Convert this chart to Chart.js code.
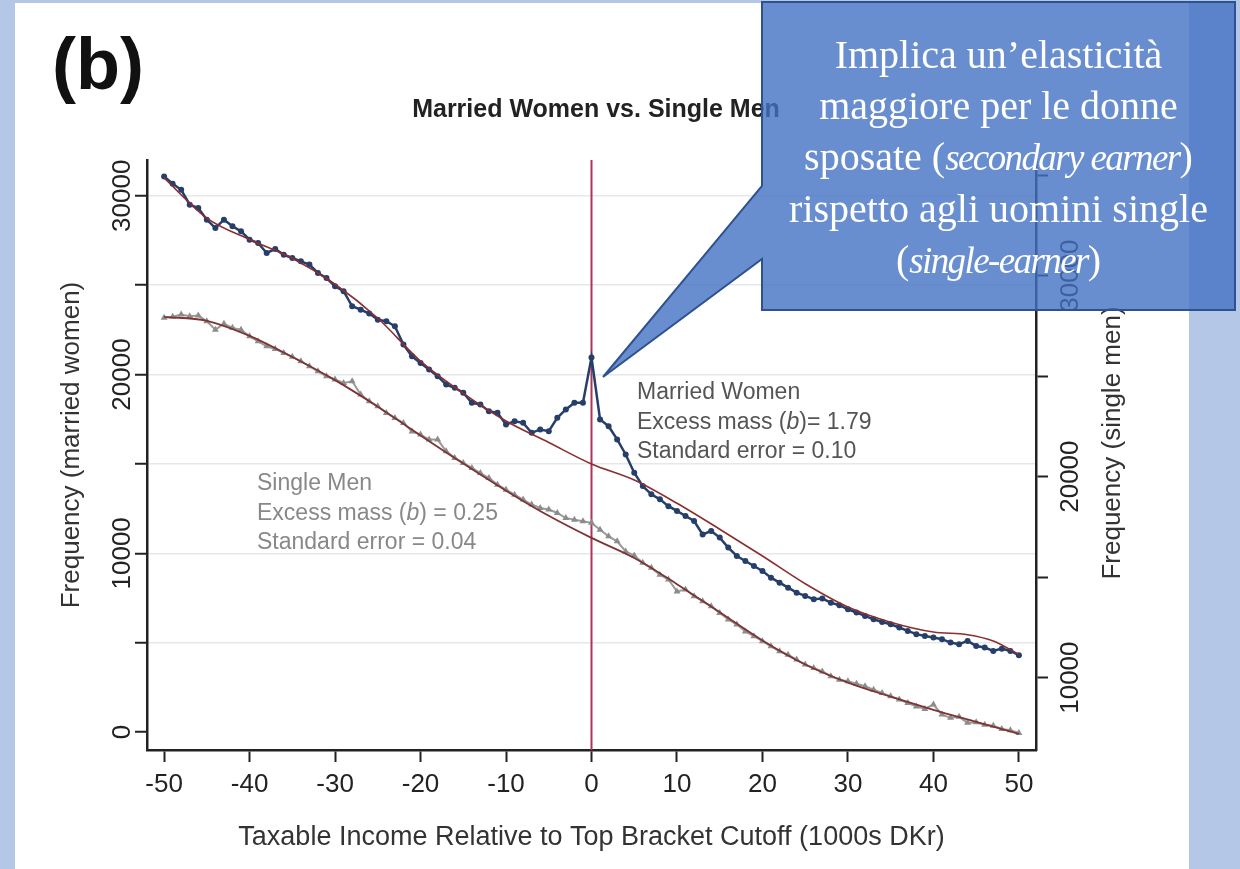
<!DOCTYPE html>
<html>
<head>
<meta charset="utf-8">
<script src="https://cdn.jsdelivr.net/npm/chart.js@4.4.1/dist/chart.umd.min.js"></script>
<style>
  html, body { margin: 0; padding: 0; }
  body { width: 1240px; height: 869px; background: #b4c7e7; position: relative; overflow: hidden; }
  #panel { position: absolute; left: 15px; top: 3px; width: 1174px; height: 866px; background: #fff; }
  #chart { position: absolute; left: 0; top: 0; }
  #callout { position: absolute; left: 0; top: 0; }
  #calloutText {
    position: absolute; left: 762px; top: 2px; width: 473px; padding-top: 27px;
    text-align: center; color: #fff;
    font-family: 'Liberation Serif', 'Times New Roman', serif; font-size: 40px; line-height: 51px;
  }
  #calloutText i { font-size: 37px; letter-spacing: -1.6px; }
</style>
</head>
<body>
<div id="panel"></div>
<canvas id="chart" width="1240" height="869"></canvas>
<svg id="callout" width="1240" height="869">
  <path d="M762,2 H1235 V310 H762 V259 L603,377 L762,186 Z" fill="#4472c4" fill-opacity="0.8" stroke="#2f528f" stroke-width="2"/>
</svg>
<div id="calloutText">Implica un’elasticità<br>maggiore per le donne<br>sposate (<i>secondary earner</i>)<br>rispetto agli uomini single<br>(<i>single-earner</i>)</div>
<script>
// bins: taxable income relative to top bracket cutoff (1000s DKr)
const bins = [-50, -49, -48, -47, -46, -45, -44, -43, -42, -41, -40, -39, -38, -37, -36, -35, -34, -33, -32, -31,
  -30, -29, -28, -27, -26, -25, -24, -23, -22, -21, -20, -19, -18, -17, -16, -15, -14, -13, -12, -11,
  -10, -9, -8, -7, -6, -5, -4, -3, -2, -1, 0, 1, 2, 3, 4, 5, 6, 7, 8, 9,
  10, 11, 12, 13, 14, 15, 16, 17, 18, 19, 20, 21, 22, 23, 24, 25, 26, 27, 28, 29,
  30, 31, 32, 33, 34, 35, 36, 37, 38, 39, 40, 41, 42, 43, 44, 45, 46, 47, 48, 49, 50];

// married women (left axis)
const womenCounts = [31080, 30670, 30335, 29500, 29310, 28660, 28190, 28660, 28290, 28010,
  27540, 27360, 26800, 27020, 26700, 26520, 26330, 26150, 25680, 25400,
  24940, 24660, 23820, 23630, 23410, 23070, 22980, 22700, 21680, 21020,
  20650, 20280, 19910, 19440, 19260, 18980, 18420, 18320, 17950, 17860,
  17210, 17390, 17300, 16740, 16930, 16830, 17580, 18050, 18420, 18420,
  20950, 17490, 17110, 16370, 15530, 14510, 13760, 13300, 13020, 12640,
  12370, 12090, 11810, 11060, 11250, 10880, 10320, 9850, 9570, 9290,
  9010, 8640, 8360, 8080, 7800, 7620, 7430, 7470, 7240, 7100,
  6870, 6690, 6500, 6310, 6160, 6030, 5850, 5660, 5480, 5380,
  5290, 5200, 5010, 4920, 5100, 4820, 4730, 4540, 4670, 4540, 4300];

// single men (right axis)
const menCounts = [27900, 27950, 28060, 27980, 28010, 27730, 27310, 27610, 27400, 27310,
  26980, 26730, 26480, 26350, 26150, 25960, 25740, 25490, 25240, 24990,
  24830, 24660, 24740, 24080, 23750, 23500, 23170, 22920, 22670, 22250,
  22090, 21840, 21840, 21260, 20930, 20680, 20430, 20180, 19930, 19600,
  19350, 19100, 18860, 18610, 18440, 18360, 18190, 17940, 17860, 17780,
  17700, 17360, 17030, 16780, 16280, 16070, 15710, 15460, 15120, 14880,
  14290, 14380, 14050, 13800, 13550, 13220, 12890, 12640, 12300, 12060,
  11810, 11560, 11310, 11140, 10900, 10650, 10480, 10310, 10070, 9900,
  9820, 9700, 9570, 9400, 9240, 9070, 8910, 8740, 8570, 8440,
  8660, 8160, 8000, 8050, 7750, 7780, 7660, 7610, 7450, 7380, 7250];

// counterfactual fits, read at knots
const womenFitX = [-50, -45, -40, -35, -30, -25, -20, -15, -10, -5, 0, 5, 10, 15, 20, 25, 30, 35, 40, 44, 47, 50];
const womenFitY = [31000, 28750, 27550, 26500, 25050, 23150, 20750, 18950, 17400, 16200, 15000, 14100, 12800, 11350, 9850, 8300, 7000, 6150, 5600, 5450, 5100, 4350];
const menFitX = [-50, -45, -40, -35, -30, -25, -20, -15, -10, -5, 0, 5, 10, 15, 20, 25, 30, 35, 40, 45, 50];
const menFitY = [27950, 27750, 27000, 25950, 24800, 23480, 22050, 20650, 19300, 18050, 16950, 15950, 14650, 13250, 11850, 10650, 9750, 9050, 8400, 7800, 7200];

const xTicks = [-50, -40, -30, -20, -10, 0, 10, 20, 30, 40, 50];
const leftTicks = [0, 5000, 10000, 15000, 20000, 25000, 30000];
const leftTickLabels = [0, 10000, 20000, 30000];
const rightTicks = [10000, 15000, 20000, 25000, 30000, 35000];
const rightTickLabels = [10000, 20000, 30000];
const cutoff = 0;

const FONT = "'Liberation Sans', Arial, sans-serif";
const AXIS = '#222';

function richText(ctx, parts, x, y, size, color) {
  ctx.fillStyle = color;
  ctx.textAlign = 'left';
  ctx.textBaseline = 'middle';
  parts.forEach(([t, it]) => {
    ctx.font = (it ? 'italic ' : '') + size + 'px ' + FONT;
    ctx.fillText(t, x, y);
    x += ctx.measureText(t).width;
  });
}

function vText(ctx, t, x, y) {
  ctx.save();
  ctx.translate(x, y);
  ctx.rotate(-Math.PI / 2);
  ctx.textAlign = 'center';
  ctx.textBaseline = 'middle';
  ctx.fillText(t, 0, 0);
  ctx.restore();
}

const paperText = {
  id: 'paperText',
  beforeDatasetsDraw(chart) {
    const { ctx, chartArea, scales } = chart;
    const px = scales.x.getPixelForValue(cutoff);
    ctx.save();
    ctx.strokeStyle = '#ad3358';
    ctx.lineWidth = 2;
    ctx.beginPath();
    ctx.moveTo(px, chartArea.top);
    ctx.lineTo(px, chartArea.bottom);
    ctx.stroke();
    ctx.restore();
  },
  afterDraw(chart) {
    const { ctx, scales } = chart;
    ctx.save();
    // panel letter and title
    ctx.fillStyle = '#111';
    ctx.font = 'bold 72px ' + FONT;
    ctx.textAlign = 'left';
    ctx.textBaseline = 'alphabetic';
    ctx.fillText('(b)', 52, 89);
    ctx.font = 'bold 25px ' + FONT;
    ctx.fillStyle = '#222';
    ctx.textAlign = 'center';
    ctx.textBaseline = 'middle';
    ctx.fillText('Married Women vs. Single Men', 596, 110);

    // y tick labels, rotated
    ctx.font = '26px ' + FONT;
    ctx.fillStyle = '#222';
    leftTickLabels.forEach(v => vText(ctx, String(v), 123, scales.y.getPixelForValue(v)));
    rightTickLabels.forEach(v => vText(ctx, String(v), 1071, scales.y1.getPixelForValue(v)));
    ctx.fillStyle = '#333';
    vText(ctx, 'Frequency (married women)', 72, 445);
    vText(ctx, 'Frequency (single men)', 1113, 443);

    // annotations
    richText(ctx, [['Married Women', false]], 637, 393, 23, '#555');
    richText(ctx, [['Excess mass (', false], ['b', true], [')= 1.79', false]], 637, 423, 23, '#555');
    richText(ctx, [['Standard error = 0.10', false]], 637, 452, 23, '#555');
    richText(ctx, [['Single Men', false]], 257, 484, 23, '#888');
    richText(ctx, [['Excess mass (', false], ['b', true], [') = 0.25', false]], 257, 514, 23, '#888');
    richText(ctx, [['Standard error = 0.04', false]], 257, 543, 23, '#888');
    ctx.restore();
  }
};

const tickGrid = { drawOnChartArea: false, tickLength: 12, tickColor: AXIS, tickWidth: 2, color: AXIS };
const axisBorder = { display: true, color: AXIS, width: 2.5 };

new Chart(document.getElementById('chart'), {
  type: 'line',
  data: {
    datasets: [
      {
        label: 'Married women fit',
        data: womenFitX.map((x, i) => ({ x, y: womenFitY[i] })),
        yAxisID: 'y',
        borderColor: '#8a2f2f',
        borderWidth: 1.6,
        pointRadius: 0,
        cubicInterpolationMode: 'monotone'
      },
      {
        label: 'Single men fit',
        data: menFitX.map((x, i) => ({ x, y: menFitY[i] })),
        yAxisID: 'y1',
        borderColor: '#7d3434',
        borderWidth: 1.8,
        pointRadius: 0,
        cubicInterpolationMode: 'monotone'
      },
      {
        label: 'Married Women',
        data: bins.map((x, i) => ({ x, y: womenCounts[i] })),
        yAxisID: 'y',
        borderColor: '#263f6a',
        backgroundColor: '#263f6a',
        borderWidth: 2.5,
        pointRadius: 3,
        pointBorderWidth: 0,
        tension: 0
      },
      {
        label: 'Single Men',
        data: bins.map((x, i) => ({ x, y: menCounts[i] })),
        yAxisID: 'y1',
        borderColor: '#9a9a9a',
        backgroundColor: '#8c8c8c',
        borderWidth: 2,
        pointStyle: 'triangle',
        pointRadius: 4,
        pointBorderWidth: 0,
        tension: 0
      }
    ]
  },
  options: {
    responsive: false,
    animation: false,
    layout: { padding: { top: 160, left: 0, right: 0, bottom: 0 } },
    plugins: { legend: { display: false }, tooltip: { enabled: false } },
    scales: {
      x: {
        type: 'linear',
        min: -52,
        max: 52,
        afterBuildTicks: s => { s.ticks = xTicks.map(v => ({ value: v })); },
        afterFit: s => { s.height = 119; },
        border: axisBorder,
        grid: tickGrid,
        ticks: { color: '#222', font: { family: FONT, size: 26 }, padding: 7, maxRotation: 0 },
        title: {
          display: true,
          text: 'Taxable Income Relative to Top Bracket Cutoff (1000s DKr)',
          color: '#333',
          font: { family: FONT, size: 27 },
          padding: { top: 0, bottom: 15 }
        }
      },
      y: {
        type: 'linear',
        position: 'left',
        min: -1000,
        max: 32000,
        afterBuildTicks: s => { s.ticks = leftTicks.map(v => ({ value: v })); },
        afterFit: s => { s.width = 147; },
        border: axisBorder,
        grid: {
          color: c => (c.tick && c.tick.value === 0) ? 'rgba(0,0,0,0)' : '#e5e8eb',
          lineWidth: 1.5,
          tickLength: 12,
          tickColor: AXIS,
          tickWidth: 2
        },
        ticks: { display: false }
      },
      y1: {
        type: 'linear',
        position: 'right',
        min: 6400,
        max: 35750,
        afterBuildTicks: s => { s.ticks = rightTicks.map(v => ({ value: v })); },
        afterFit: s => { s.width = 204; },
        border: axisBorder,
        grid: tickGrid,
        ticks: { display: false }
      }
    }
  },
  plugins: [paperText]
});
</script>
</body>
</html>
